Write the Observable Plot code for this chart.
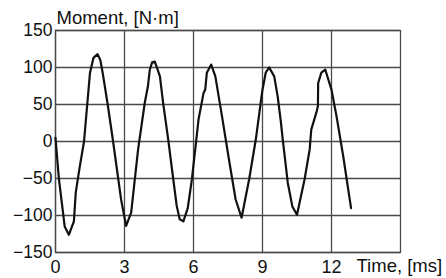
<!DOCTYPE html>
<html>
<head>
<meta charset="utf-8">
<script src="https://cdn.jsdelivr.net/npm/d3@7"></script>
<script src="https://cdn.jsdelivr.net/npm/@observablehq/plot@0.6"></script>
<style>
  html, body { margin: 0; padding: 0; background: #fff; }
</style>
</head>
<body>
<div id="chart"></div>
<script>
const timeMs = [0, 0.15, 0.4, 0.58, 0.8, 0.88, 1.05, 1.24, 1.5, 1.65, 1.83, 1.95, 2.05, 2.27, 2.49, 2.85, 3.07,
  3.29, 3.59, 3.88, 4.02, 4.1, 4.2, 4.32, 4.54, 4.68, 4.9, 5.12, 5.27, 5.4, 5.56,
  5.75, 5.93, 6.22, 6.44, 6.51, 6.58, 6.77, 6.95, 7.24, 7.54, 7.83, 8.09,
  8.42, 8.71, 8.92, 9.0, 9.14, 9.29, 9.51, 9.66, 9.8, 9.88, 10.1, 10.3, 10.5,
  10.83, 11.05, 11.12, 11.34, 11.41, 11.42, 11.56, 11.73, 12.0, 12.22, 12.51, 12.85];
const momentNm = [5, -51, -115, -126, -108, -69, -35, 0, 93, 113, 118, 110, 93, 50, 3, -78, -114,
  -96, -11, 52, 75, 97, 107, 108, 88, 52, 3, -51, -87, -105, -108,
  -90, -51, 30, 66, 70, 93, 104, 88, 34, -24, -78, -103,
  -51, 3, 52, 70, 93, 100, 88, 61, 26, 3, -56, -88, -99,
  -51, -11, 16, 39, 48, 79, 93, 97, 70, 34, -20, -90];
const xTicks = [0, 3, 6, 9, 12];
const yTicks = [-150, -100, -50, 0, 50, 100, 150];
const xDomain = [0, 15];
const yDomain = [-150, 150];
const yLabel = "Moment, [N·m]";
const xLabel = "Time, [ms]";

const data = timeMs.map((t, i) => ({t, m: momentNm[i]}));
const font = "'Liberation Sans', Arial, sans-serif";
const gridColor = "#4a4a4a";

const chart = Plot.plot({
  width: 446,
  height: 278,
  marginLeft: 55,
  marginRight: 46,
  marginTop: 30,
  marginBottom: 26,
  style: {fontFamily: font, fontSize: "17px", color: "#111", background: "#fff"},
  x: {domain: xDomain, ticks: xTicks, label: null},
  y: {domain: yDomain, ticks: yTicks, label: null},
  marks: [
    Plot.gridX(xTicks, {stroke: gridColor, strokeOpacity: 1, strokeWidth: 1.3}),
    Plot.gridY(yTicks, {stroke: gridColor, strokeOpacity: 1, strokeWidth: 1.3}),
    Plot.frame({stroke: gridColor, strokeWidth: 1.3}),
    Plot.axisX(xTicks, {tickSize: 0, tickPadding: 8, fontSize: 18, label: null}),
    Plot.axisY(yTicks, {tickSize: 0, tickPadding: 3, fontSize: 17.5, label: null}),
    Plot.line(data, {x: "t", y: "m", stroke: "#111", strokeWidth: 2.2, curve: "linear"}),
    Plot.text([yLabel], {frameAnchor: "top-left", textAnchor: "start", dx: 1, dy: -20, fontSize: 18.5, fill: "#111"}),
    Plot.text([xLabel], {frameAnchor: "bottom-right", textAnchor: "start", dx: -44, dy: 19, fontSize: 18.5, fill: "#111"})
  ]
});
document.getElementById("chart").appendChild(chart);
</script>
</body>
</html>
